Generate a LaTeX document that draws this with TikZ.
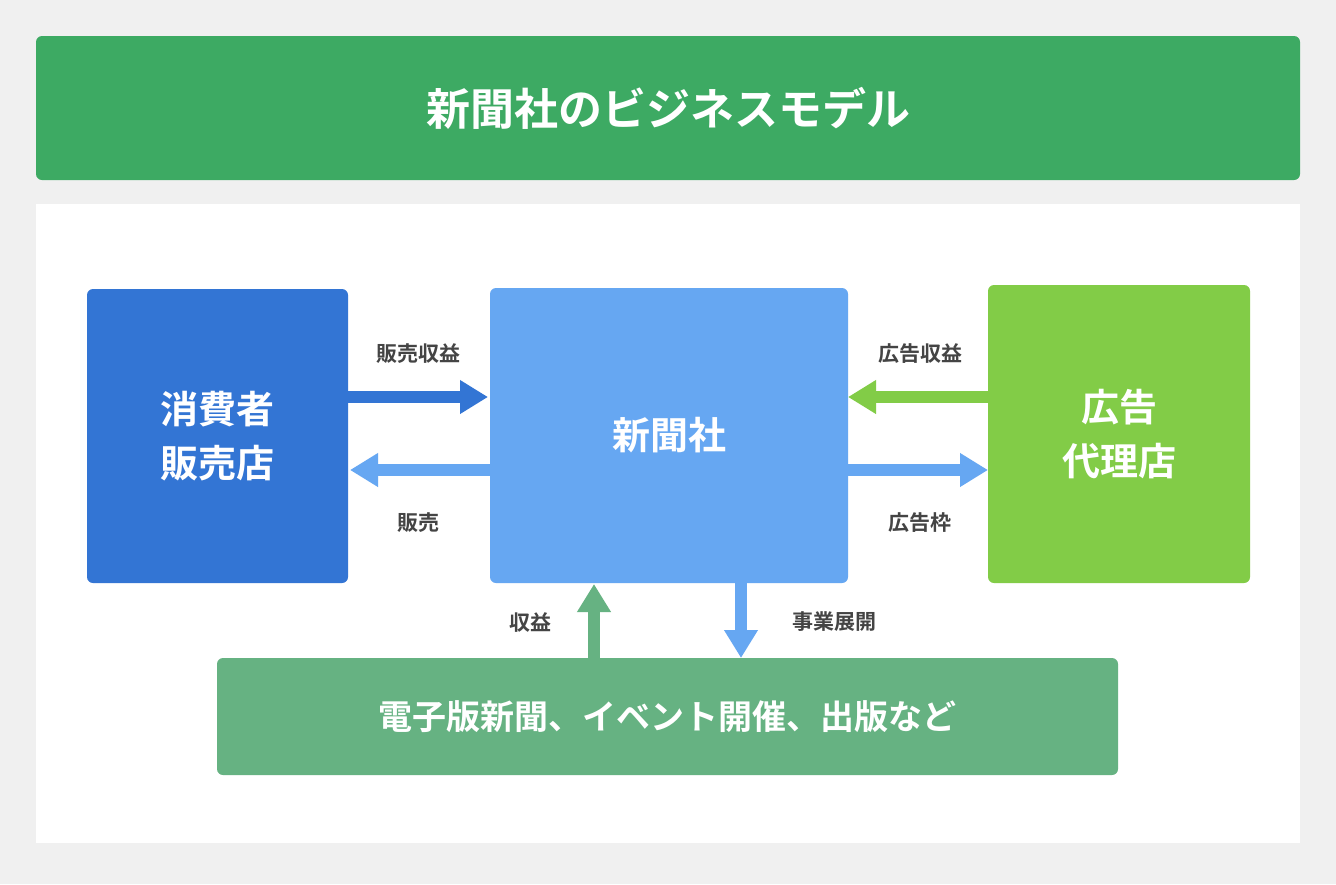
\documentclass[tikz,border=0pt]{standalone}
\usepackage{fontspec}
\setmainfont{Noto Sans CJK JP}[BoldFont={Noto Sans CJK JP Bold}]
\usetikzlibrary{arrows.meta}
\definecolor{bg}{HTML}{F0F0F0}
\definecolor{tgreen}{HTML}{3DAA63}
\definecolor{cblue}{HTML}{3375D4}
\definecolor{lblue}{HTML}{66A7F2}
\definecolor{lgreen}{HTML}{82CC47}
\definecolor{mgreen}{HTML}{66B282}
\definecolor{txt}{HTML}{444444}
\tikzset{
 box/.style={rounded corners=6pt,inner sep=0pt,text=white,font=\bfseries\fontsize{38}{54}\selectfont,align=center},
 lab/.style={text=txt,font=\bfseries\fontsize{21}{25}\selectfont},
 arr/.style={line width=12pt,-{Triangle[width=32pt,length=28pt]}}
}
\begin{document}
\begin{tikzpicture}[x=1pt,y=-1pt]
\fill[bg] (0,0) rectangle (1336,884);
\useasboundingbox (0,0) rectangle (1336,884);
\node[box,fill=tgreen,minimum width=1264pt,minimum height=144pt,font=\bfseries\fontsize{44}{50}\selectfont] (title) at (668,108) {新聞社のビジネスモデル};
\fill[white] (36,204) rectangle (1300,843);
\node[box,fill=cblue,minimum width=261pt,minimum height=294pt] (cons) at (217.5,436) {消費者\\販売店};
\node[box,fill=lblue,minimum width=358pt,minimum height=295pt] (np) at (669,435.5) {新聞社};
\node[box,fill=lgreen,minimum width=262pt,minimum height=298pt] (ad) at (1119,434) {広告\\代理店};
\node[box,fill=mgreen,minimum width=901pt,minimum height=117pt,font=\bfseries\fontsize{34}{40}\selectfont] (bot) at (667.5,716.5) {電子版新聞、イベント開催、出版など};
\coordinate (a1) at (348,397); \coordinate (a2) at (488,397);
\draw[arr,cblue] (a1) -- (a2);
\coordinate (b1) at (490,470); \coordinate (b2) at (350,470);
\draw[arr,lblue] (b1) -- (b2);
\coordinate (c1) at (988,397); \coordinate (c2) at (848,397);
\draw[arr,lgreen] (c1) -- (c2);
\coordinate (d1) at (848,470); \coordinate (d2) at (988,470);
\draw[arr,lblue] (d1) -- (d2);
\coordinate (e1) at (594,658); \coordinate (e2) at (594,584);
\draw[arr,mgreen] (e1) -- (e2);
\coordinate (f1) at (741,583); \coordinate (f2) at (741,658);
\draw[arr,lblue] (f1) -- (f2);
\node[lab] (l1) at (418,354) {販売収益};
\node[lab] (l2) at (418,523) {販売};
\node[lab] (l3) at (920,354) {広告収益};
\node[lab] (l4) at (920,523) {広告枠};
\node[lab] (l5) at (530,622) {収益};
\node[lab] (l6) at (834,622) {事業展開};
\end{tikzpicture}
\end{document}
